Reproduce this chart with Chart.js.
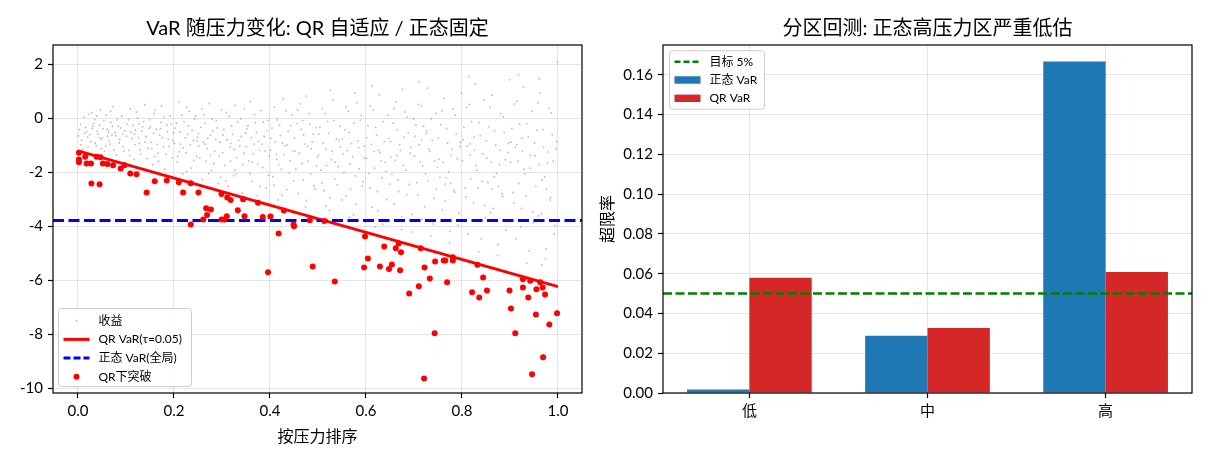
<!DOCTYPE html>
<html>
<head>
<meta charset="utf-8">
<script src="https://cdn.jsdelivr.net/npm/chart.js@4.4.1/dist/chart.umd.min.js"></script>
<style>
  html, body { margin: 0; padding: 0; background: #fff; }
  #left { position: absolute; left: 0; top: 0; width: 595px; height: 462px; }
  #right { position: absolute; left: 595px; top: 0; width: 615px; height: 462px; }
</style>
</head>
<body>
<div id="left"><canvas id="varChart"></canvas></div>
<div id="right"><canvas id="zoneChart"></canvas></div>
<script>
// ---- left panel data ----
var stressTicks = [0, 0.2, 0.4, 0.6, 0.8, 1.0];
var stressTickLabels = ['0.0', '0.2', '0.4', '0.6', '0.8', '1.0'];
var retTicks = [-10, -8, -6, -4, -2, 0, 2];
var retTickLabels = ['-10', '-8', '-6', '-4', '-2', '0', '2'];

var qrX = [0, 1];
var qrY = [-1.20, -6.23];
var normalVaR = -3.78;

var breachX = [0.002, 0.002, 0.002, 0.015, 0.018, 0.027, 0.028, 0.039, 0.045, 0.047, 0.052, 0.061, 0.073, 0.089,
  0.097, 0.109, 0.122, 0.143, 0.160, 0.185, 0.210, 0.219, 0.235, 0.235, 0.251, 0.261, 0.267, 0.269, 0.277,
  0.299, 0.299, 0.305, 0.310, 0.311, 0.318, 0.333, 0.344, 0.347, 0.375, 0.385, 0.396, 0.401, 0.418, 0.429,
  0.449, 0.450, 0.483, 0.489, 0.513, 0.535, 0.596, 0.598, 0.604, 0.629, 0.638, 0.648, 0.654, 0.662, 0.668,
  0.671, 0.673, 0.690, 0.710, 0.714, 0.721, 0.722, 0.733, 0.743, 0.744, 0.762, 0.765, 0.769, 0.781, 0.781,
  0.821, 0.832, 0.836, 0.844, 0.852, 0.899, 0.902, 0.911, 0.927, 0.927, 0.938, 0.942, 0.946, 0.954, 0.955,
  0.963, 0.968, 0.969, 0.973, 0.982, 0.998];
var breachY = [-1.27, -1.52, -1.62, -1.42, -1.67, -1.67, -2.41, -1.42, -2.44, -1.44, -1.67, -1.69, -1.73, -1.85,
  -1.73, -2.04, -2.07, -2.74, -2.33, -2.30, -2.36, -2.74, -2.40, -3.93, -2.74, -3.74, -3.33, -3.58, -3.37,
  -2.80, -3.74, -3.74, -3.62, -2.93, -3.02, -3.40, -2.99, -3.62, -3.12, -3.65, -5.70, -3.63, -4.26, -3.41,
  -3.93, -3.99, -3.77, -5.48, -3.80, -6.04, -5.52, -4.37, -5.19, -5.48, -4.74, -5.58, -5.41, -4.81, -4.63,
  -5.62, -4.96, -6.48, -6.22, -4.81, -9.63, -5.52, -5.93, -7.96, -5.30, -5.26, -5.26, -6.07, -5.14, -5.26,
  -6.44, -5.42, -6.63, -5.89, -6.37, -6.37, -7.04, -7.96, -5.96, -6.26, -6.63, -6.01, -9.48, -7.26, -6.33,
  -6.07, -6.26, -8.85, -6.52, -7.63, -7.22];

// gray return cloud
var returnsPts = [
  [0.003,-0.42],[0.008,-0.81],[0.012,0.05],[0.016,-0.33],[0.021,-1.05],[0.025,-0.6],[0.029,0.21],[0.033,-0.18],[0.036,-0.92],[0.04,-0.47],[0.044,-0.71],[0.047,0.32],[0.049,-1.12],[0.014,-0.55],[0.031,-0.28],
  [0.052,-0.38],[0.055,-1.21],[0.059,0.12],[0.062,-0.66],[0.066,-0.95],[0.069,-0.14],[0.073,0.44],[0.077,-0.52],[0.08,-1.36],[0.084,-0.29],[0.087,-0.78],[0.091,0.08],[0.094,-1.04],[0.098,-0.46],[0.071,-0.61],
  [0.102,-0.21],[0.106,-1.18],[0.109,0.35],[0.113,-0.74],[0.117,-1.52],[0.12,-0.43],[0.124,0.02],[0.128,-0.92],[0.131,-1.33],[0.135,-0.31],[0.139,0.51],[0.142,-0.67],[0.146,-1.1],[0.149,-0.05],[0.118,-0.58],
  [0.152,-0.88],[0.156,-1.71],[0.159,0.18],[0.163,-0.4],[0.167,-1.29],[0.17,-0.62],[0.174,0.46],[0.178,-1.05],[0.181,-1.88],[0.185,-0.24],[0.188,-0.77],[0.192,0.09],[0.196,-1.46],[0.199,-0.53],[0.173,-0.15],
  [0.203,-0.36],[0.207,-1.62],[0.21,0.61],[0.214,-0.95],[0.218,-2.05],[0.221,-0.12],[0.225,-1.27],[0.229,-0.58],[0.232,0.27],[0.236,-1.84],[0.24,-0.81],[0.243,-0.03],[0.247,-1.41],[0.249,-0.69],[0.227,0.42],
  [0.252,-1.02],[0.256,-0.33],[0.259,-2.26],[0.263,0.14],[0.267,-1.58],[0.27,-0.74],[0.274,0.55],[0.278,-1.93],[0.281,-0.47],[0.285,-1.21],[0.288,-0.09],[0.292,-2.41],[0.296,-0.88],[0.299,0.31],[0.276,-1.37],
  [0.302,-0.62],[0.306,-1.74],[0.309,0.22],[0.313,-2.51],[0.317,-1.06],[0.32,-0.28],[0.324,-2.12],[0.328,0.48],[0.331,-1.45],[0.335,-0.81],[0.339,-0.02],[0.342,-2.77],[0.346,-1.29],[0.349,-0.54],[0.327,-1.91],
  [0.352,-0.39],[0.356,-1.57],[0.359,0.63],[0.363,-2.33],[0.367,-0.95],[0.37,-0.16],[0.374,-2.86],[0.378,-1.18],[0.381,0.29],[0.385,-1.82],[0.388,-0.67],[0.392,-2.58],[0.396,-0.07],[0.399,-1.39],[0.376,-0.84],
  [0.402,-0.73],[0.406,-2.15],[0.409,0.41],[0.413,-1.32],[0.417,-3.02],[0.42,-0.25],[0.424,-1.88],[0.428,0.72],[0.431,-1.01],[0.435,-2.64],[0.438,-0.48],[0.442,-1.56],[0.446,0.13],[0.449,-2.31],[0.426,-0.92],
  [0.452,-1.21],[0.456,-0.19],[0.459,-2.78],[0.463,0.54],[0.467,-1.67],[0.47,-0.61],[0.474,-3.28],[0.478,-1.03],[0.481,0.17],[0.485,-2.06],[0.488,-0.87],[0.492,-2.49],[0.496,-0.34],[0.499,-1.44],[0.476,0.83],
  [0.502,-0.58],[0.506,-1.92],[0.509,0.36],[0.513,-2.67],[0.517,-1.14],[0.52,-0.11],[0.524,-3.41],[0.528,-1.53],[0.531,0.69],[0.535,-2.24],[0.538,-0.76],[0.542,-1.78],[0.546,-0.29],[0.549,-3.02],[0.526,1.04],
  [0.552,-1.31],[0.556,-0.42],[0.559,-2.88],[0.563,0.27],[0.567,-1.69],[0.57,-0.93],[0.574,-3.57],[0.578,-2.13],[0.581,0.58],[0.585,-1.08],[0.588,-0.06],[0.592,-2.51],[0.596,-1.46],[0.599,-3.83],[0.577,0.94],
  [0.602,-0.71],[0.606,-2.04],[0.609,0.46],[0.613,-3.29],[0.617,-1.22],[0.62,-0.33],[0.624,-2.71],[0.628,0.88],[0.631,-1.57],[0.635,-3.92],[0.638,-0.85],[0.642,-1.96],[0.646,0.12],[0.649,-2.43],[0.626,-1.18],[0.612,1.21],
  [0.652,-1.43],[0.656,-0.18],[0.659,-3.16],[0.663,0.61],[0.667,-2.27],[0.67,-0.97],[0.674,-4.12],[0.678,-1.74],[0.681,0.24],[0.685,-2.82],[0.688,-0.54],[0.692,-1.29],[0.696,-3.55],[0.699,-0.02],[0.676,1.08],
  [0.702,-0.66],[0.706,-2.38],[0.709,0.52],[0.713,-1.61],[0.717,-3.74],[0.72,-0.29],[0.724,-2.05],[0.728,1.12],[0.731,-1.13],[0.735,-4.36],[0.738,-0.81],[0.742,-2.96],[0.746,0.19],[0.749,-1.82],[0.726,-0.47],[0.711,1.36],
  [0.752,-1.52],[0.756,-0.23],[0.759,-3.38],[0.763,0.74],[0.767,-2.19],[0.77,-0.92],[0.774,-4.61],[0.778,-1.37],[0.781,0.35],[0.785,-2.73],[0.788,-0.58],[0.792,-3.95],[0.796,-1.04],[0.799,0.93],[0.776,-2.41],
  [0.802,-0.79],[0.806,-2.57],[0.809,0.41],[0.813,-4.28],[0.817,-1.36],[0.82,-0.12],[0.824,-3.12],[0.828,1.27],[0.831,-1.91],[0.835,-4.93],[0.838,-0.64],[0.842,-2.32],[0.846,0.68],[0.849,-3.67],[0.826,-1.18],[0.814,1.55],
  [0.852,-1.47],[0.856,-0.31],[0.859,-3.49],[0.863,0.86],[0.867,-2.16],[0.87,-0.98],[0.874,-5.08],[0.878,-1.71],[0.881,0.18],[0.885,-2.89],[0.888,-0.52],[0.892,-4.14],[0.896,-1.26],[0.899,1.43],[0.876,-2.52],
  [0.902,-0.88],[0.906,-2.74],[0.909,0.53],[0.913,-4.47],[0.917,-1.58],[0.92,-0.21],[0.924,-3.33],[0.928,1.16],[0.931,-2.05],[0.935,-5.36],[0.938,-0.69],[0.942,-1.84],[0.946,0.27],[0.949,-3.86],[0.926,-1.21],[0.918,1.62],
  [0.952,-1.39],[0.956,-0.44],[0.959,-3.61],[0.963,0.94],[0.967,-2.29],[0.97,-1.07],[0.974,-5.19],[0.978,-1.66],[0.981,0.37],[0.985,-2.93],[0.988,-0.61],[0.992,-4.28],[0.996,-1.12],[0.999,2.08],[0.976,-2.61],[0.961,1.47],
  [0.001,-0.65],[0.005,-0.22],[0.01,-1.15],[0.018,-0.49],[0.022,0.16],[0.027,-0.86],[0.03,-0.37],[0.035,-0.04],[0.038,-1.01],[0.042,-0.58],[0.045,-0.26],[0.048,-0.77],[0.02,-0.69],[0.006,-0.98],[0.039,0.09],
  [0.051,-0.72],[0.054,-0.09],[0.058,-1.02],[0.061,-0.41],[0.065,-0.83],[0.068,0.27],[0.072,-0.29],[0.075,-1.16],[0.079,-0.64],[0.082,-0.05],[0.086,-0.91],[0.089,-0.35],[0.093,-0.58],[0.096,-1.22],[0.064,-0.5],
  [0.101,-0.66],[0.105,-0.04],[0.108,-1.38],[0.111,-0.51],[0.115,-0.26],[0.119,-0.97],[0.122,0.24],[0.126,-0.71],[0.13,-1.15],[0.133,-0.47],[0.137,-0.12],[0.14,-0.88],[0.144,-1.49],[0.148,-0.37],[0.127,-0.19],
  [0.151,-0.31],[0.154,-1.12],[0.158,-0.55],[0.161,0.31],[0.165,-0.96],[0.168,-1.58],[0.172,-0.38],[0.176,-0.71],[0.179,0.06],[0.183,-1.33],[0.186,-0.49],[0.19,-1.04],[0.194,-0.21],[0.197,-0.82],[0.16,-1.41],
  [0.201,-0.92],[0.205,-0.17],[0.208,-1.41],[0.212,-0.49],[0.216,0.12],[0.219,-1.09],[0.223,-0.71],[0.226,-1.96],[0.23,-0.28],[0.234,-0.97],[0.238,-0.44],[0.241,-1.55],[0.245,0.09],[0.248,-0.83],[0.211,-1.23],
  [0.251,-0.57],[0.254,-1.46],[0.258,0.36],[0.261,-0.89],[0.265,-0.18],[0.269,-1.12],[0.272,-2.04],[0.276,-0.62],[0.279,-0.03],[0.283,-1.67],[0.287,-0.78],[0.29,-0.35],[0.294,-1.39],[0.297,-2.18],[0.265,-0.95],
  [0.301,-1.27],[0.304,-0.41],[0.308,-2.31],[0.311,-0.79],[0.315,0.08],[0.318,-1.58],[0.322,-0.59],[0.326,-1.15],[0.329,-2.06],[0.333,-0.14],[0.337,-1.02],[0.34,-0.66],[0.344,-1.71],[0.347,0.36],[0.319,-0.93],
  [0.351,-1.05],[0.354,-0.28],[0.358,-2.04],[0.361,-0.71],[0.365,-1.31],[0.368,0.14],[0.372,-0.52],[0.375,-1.68],[0.379,-2.52],[0.383,-0.96],[0.386,-0.13],[0.39,-1.21],[0.394,-0.45],[0.397,-2.11],[0.363,-1.62],
  [0.401,-1.18],[0.404,-0.36],[0.408,-2.47],[0.411,-0.87],[0.415,-0.05],[0.418,-1.71],[0.422,-0.63],[0.425,-2.85],[0.429,-1.34],[0.433,0.28],[0.436,-0.98],[0.44,-2.02],[0.443,-0.27],[0.447,-1.19],[0.414,-1.52],
  [0.451,-0.72],[0.454,-1.88],[0.458,0.31],[0.461,-1.29],[0.465,-0.41],[0.469,-2.27],[0.472,-0.95],[0.476,-3.04],[0.479,-1.58],[0.483,-0.22],[0.486,-1.13],[0.49,-0.58],[0.494,-2.61],[0.497,-1.76],[0.468,-0.08],
  [0.501,-1.36],[0.504,-0.33],[0.508,-2.39],[0.511,-0.92],[0.515,0.18],[0.518,-1.75],[0.522,-0.55],[0.525,-2.93],[0.529,-1.21],[0.533,-0.07],[0.536,-1.62],[0.54,-2.46],[0.543,-0.81],[0.547,-1.06],[0.516,-3.25],
  [0.551,-0.76],[0.554,-2.01],[0.558,0.42],[0.561,-1.19],[0.565,-0.52],[0.568,-2.62],[0.572,-1.41],[0.575,-0.17],[0.579,-3.18],[0.583,-0.84],[0.586,-1.87],[0.59,0.11],[0.594,-2.34],[0.597,-1.02],[0.565,-3.66],
  [0.601,-1.48],[0.604,-0.27],[0.608,-2.58],[0.611,-0.96],[0.615,0.31],[0.618,-1.84],[0.622,-0.61],[0.625,-3.42],[0.629,-1.26],[0.633,-2.19],[0.636,-0.12],[0.64,-1.63],[0.643,-3.01],[0.647,-0.74],[0.619,-4.02],
  [0.651,-0.86],[0.654,-2.07],[0.658,0.37],[0.661,-1.55],[0.665,-0.43],[0.668,-2.71],[0.672,-1.18],[0.675,-3.63],[0.679,-0.69],[0.683,-1.92],[0.686,0.05],[0.69,-2.44],[0.694,-1.07],[0.697,-4.21],[0.665,-1.37],
  [0.701,-1.39],[0.704,-0.24],[0.708,-2.83],[0.711,-0.97],[0.715,0.47],[0.718,-1.76],[0.722,-3.27],[0.725,-0.56],[0.729,-2.31],[0.733,-1.22],[0.736,-0.02],[0.74,-3.91],[0.743,-1.58],[0.747,-2.62],[0.716,-0.81],
  [0.751,-0.72],[0.754,-2.18],[0.758,0.29],[0.761,-1.63],[0.765,-3.06],[0.768,-0.37],[0.772,-1.97],[0.775,-4.18],[0.779,-1.14],[0.783,-2.66],[0.786,0.12],[0.79,-1.49],[0.794,-3.51],[0.797,-0.88],[0.765,-2.43],
  [0.801,-1.57],[0.804,-0.33],[0.808,-2.91],[0.811,-1.02],[0.815,0.52],[0.818,-2.24],[0.822,-3.78],[0.825,-0.69],[0.829,-1.74],[0.833,-2.58],[0.836,-0.15],[0.84,-4.46],[0.843,-1.31],[0.847,-3.22],[0.817,-0.94],
  [0.851,-0.83],[0.854,-2.37],[0.858,0.41],[0.861,-1.62],[0.865,-3.33],[0.868,-0.46],[0.872,-2.04],[0.875,-4.67],[0.879,-1.18],[0.883,-2.79],[0.886,0.07],[0.89,-1.53],[0.894,-3.82],[0.897,-0.92],[0.862,-2.61],
  [0.901,-1.62],[0.904,-0.37],[0.908,-3.14],[0.911,-1.06],[0.915,0.64],[0.918,-2.41],[0.922,-4.02],[0.925,-0.73],[0.929,-1.88],[0.933,-2.87],[0.936,-0.19],[0.94,-4.91],[0.943,-1.37],[0.947,-3.46],[0.914,-0.97],
  [0.951,-0.91],[0.954,-2.52],[0.958,0.58],[0.961,-1.71],[0.965,-3.54],[0.968,-0.42],[0.972,-2.17],[0.975,-4.83],[0.979,-1.24],[0.983,-3.02],[0.986,0.21],[0.99,-1.58],[0.994,-3.97],[0.997,-0.86],[0.966,-5.42]
];

// ---- right panel data ----
var zones = ['低', '中', '高'];
var normalRate = [0.0017, 0.0288, 0.1667];
var qrRate = [0.0579, 0.0327, 0.0608];
var targetRate = 0.05;
var rateTicks = [0, 0.02, 0.04, 0.06, 0.08, 0.10, 0.12, 0.14, 0.16];
var rateTickLabels = ['0.00', '0.02', '0.04', '0.06', '0.08', '0.10', '0.12', '0.14', '0.16'];

var FONT = "Lato, 'Noto Sans CJK SC', sans-serif";
Chart.defaults.font.family = FONT;
Chart.defaults.font.size = 15;
Chart.defaults.color = '#000';
Chart.defaults.animation = false;

var GRID = { color: 'rgba(0,0,0,0.1)', lineWidth: 1, tickColor: '#000', tickLength: 5, tickWidth: 1.2 };

function roundBox(ctx, x, y, w, h, r) {
  ctx.beginPath();
  ctx.moveTo(x + r, y);
  ctx.lineTo(x + w - r, y);
  ctx.arcTo(x + w, y, x + w, y + r, r);
  ctx.lineTo(x + w, y + h - r);
  ctx.arcTo(x + w, y + h, x + w - r, y + h, r);
  ctx.lineTo(x + r, y + h);
  ctx.arcTo(x, y + h, x, y + h - r, r);
  ctx.lineTo(x, y + r);
  ctx.arcTo(x, y, x + r, y, r);
  ctx.closePath();
}

// spines + axes title, matplotlib style
function framePlugin(title) {
  return {
    id: 'frame',
    afterDraw: function(chart) {
      var ca = chart.chartArea, ctx = chart.ctx;
      ctx.save();
      ctx.strokeStyle = '#000';
      ctx.lineWidth = 1.2;
      ctx.strokeRect(ca.left, ca.top, ca.right - ca.left, ca.bottom - ca.top);
      ctx.fillStyle = '#000';
      ctx.font = '20px ' + FONT;
      ctx.textAlign = 'center';
      ctx.textBaseline = 'middle';
      ctx.fillText(title, (ca.left + ca.right) / 2, ca.top - 16.5);
      ctx.restore();
    }
  };
}

function legendPlugin(box, items) {
  return {
    id: 'mplLegend',
    afterDraw: function(chart) {
      var ca = chart.chartArea, ctx = chart.ctx;
      var x0 = ca.left + box.dx;
      var y0 = box.fromBottom ? ca.bottom - box.dy - box.h : ca.top + box.dy;
      ctx.save();
      roundBox(ctx, x0, y0, box.w, box.h, 3);
      ctx.fillStyle = 'rgba(255,255,255,0.8)';
      ctx.fill();
      ctx.strokeStyle = '#cccccc';
      ctx.lineWidth = 1;
      ctx.stroke();
      ctx.font = '12px ' + FONT;
      ctx.textBaseline = 'middle';
      ctx.textAlign = 'left';
      for (var i = 0; i < items.length; i++) {
        var cy = y0 + box.first + i * box.step;
        var mx = x0 + 5;
        items[i].mark(ctx, mx, mx + 26, cy);
        ctx.fillStyle = '#000';
        ctx.fillText(items[i].label, x0 + 40, cy);
      }
      ctx.restore();
    }
  };
}

function lineMark(color, width, dash) {
  return function(ctx, a, b, y) {
    ctx.save();
    ctx.strokeStyle = color;
    ctx.lineWidth = width;
    ctx.setLineDash(dash);
    ctx.beginPath();
    ctx.moveTo(a, y);
    ctx.lineTo(b, y);
    ctx.stroke();
    ctx.restore();
  };
}
function dotMark(color, r) {
  return function(ctx, a, b, y) {
    ctx.fillStyle = color;
    ctx.beginPath();
    ctx.arc((a + b) / 2, y, r, 0, Math.PI * 2);
    ctx.fill();
  };
}
function rectMark(color) {
  return function(ctx, a, b, y) {
    ctx.fillStyle = color;
    ctx.fillRect(a, y - 3.7, b - a, 7.4);
  };
}

// ---- left chart ----
var xMin = -0.052, xMax = 1.05;
new Chart(document.getElementById('varChart'), {
  type: 'scatter',
  data: {
    datasets: [
      {
        label: '收益',
        data: returnsPts.map(function(p) { return { x: p[0], y: p[1] }; }),
        pointRadius: 0.9, pointBorderWidth: 0,
        backgroundColor: 'rgba(120,120,120,0.5)', borderColor: 'rgba(0,0,0,0)',
        order: 4
      },
      {
        type: 'line', label: 'QR VaR(τ=0.05)',
        data: qrX.map(function(x, i) { return { x: x, y: qrY[i] }; }),
        borderColor: '#ff0000', borderWidth: 3, pointRadius: 0, fill: false,
        order: 3
      },
      {
        type: 'line', label: '正态 VaR(全局)',
        data: [{ x: xMin, y: normalVaR }, { x: xMax, y: normalVaR }],
        borderColor: '#0000ff', borderWidth: 3, borderDash: [11, 4.5], pointRadius: 0, fill: false,
        order: 2
      },
      {
        label: 'QR下突破',
        data: breachX.map(function(x, i) { return { x: x, y: breachY[i] }; }),
        pointRadius: 3, pointBorderWidth: 0,
        backgroundColor: '#ff0000', borderColor: '#ff0000',
        order: 1
      }
    ]
  },
  options: {
    responsive: true,
    maintainAspectRatio: false,
    layout: { padding: { top: 45, right: 13, left: 0, bottom: 0 } },
    plugins: { legend: { display: false }, tooltip: { enabled: false }, title: { display: false } },
    scales: {
      x: {
        type: 'linear', min: xMin, max: xMax,
        grid: GRID, border: { display: false },
        afterBuildTicks: function(s) { s.ticks = stressTicks.map(function(v) { return { value: v }; }); },
        afterFit: function(s) { s.height = 69; },
        ticks: { padding: 4, maxRotation: 0, autoSkip: false,
          callback: function(v, i) { return stressTickLabels[i]; } },
        title: { display: true, text: '按压力排序', font: { size: 16 }, padding: { top: 0, bottom: 16 } }
      },
      y: {
        type: 'linear', min: -10.17, max: 2.72,
        grid: GRID, border: { display: false },
        afterBuildTicks: function(s) { s.ticks = retTicks.map(function(v) { return { value: v }; }); },
        afterFit: function(s) { s.width = 53; },
        ticks: { padding: 5, autoSkip: false,
          callback: function(v, i) { return retTickLabels[i]; } }
      }
    }
  },
  plugins: [
    framePlugin('VaR 随压力变化: QR 自适应 / 正态固定'),
    legendPlugin({ dx: 5.5, dy: 6.5, w: 133, h: 78, fromBottom: true, first: 12.2, step: 18.7 }, [
      { label: '收益', mark: dotMark('rgba(110,110,110,0.6)', 0.8) },
      { label: 'QR VaR(τ=0.05)', mark: lineMark('#ff0000', 3, []) },
      { label: '正态 VaR(全局)', mark: lineMark('#0000ff', 3, [7, 3]) },
      { label: 'QR下突破', mark: dotMark('#ff0000', 3) }
    ])
  ]
});

// ---- right chart ----
var zMin = -0.485, zMax = 2.485;
new Chart(document.getElementById('zoneChart'), {
  type: 'bar',
  data: {
    datasets: [
      {
        type: 'line', label: '目标 5%',
        data: [{ x: zMin, y: targetRate }, { x: zMax, y: targetRate }],
        borderColor: '#008000', borderWidth: 2.5, borderDash: [9, 3.5], pointRadius: 0, fill: false,
        order: 0
      },
      {
        label: '正态 VaR',
        data: zones.map(function(z, i) { return { x: i, y: normalRate[i] }; }),
        backgroundColor: '#1f77b4', borderWidth: 0, order: 1
      },
      {
        label: 'QR VaR',
        data: zones.map(function(z, i) { return { x: i, y: qrRate[i] }; }),
        backgroundColor: '#d62728', borderWidth: 0, order: 1
      }
    ]
  },
  options: {
    responsive: true,
    maintainAspectRatio: false,
    layout: { padding: { top: 45, right: 18, left: 0, bottom: 0 } },
    datasets: { bar: { categoryPercentage: 0.7, barPercentage: 1.0 } },
    plugins: { legend: { display: false }, tooltip: { enabled: false }, title: { display: false } },
    scales: {
      x: {
        type: 'linear', min: zMin, max: zMax, offset: false,
        grid: Object.assign({ offset: false }, GRID), border: { display: false },
        afterBuildTicks: function(s) { s.ticks = zones.map(function(z, i) { return { value: i }; }); },
        afterFit: function(s) { s.height = 69; },
        ticks: { padding: 4, maxRotation: 0, autoSkip: false,
          callback: function(v, i) { return zones[i]; } }
      },
      y: {
        type: 'linear', min: 0, max: 0.175,
        grid: GRID, border: { display: false },
        afterBuildTicks: function(s) { s.ticks = rateTicks.map(function(v) { return { value: v }; }); },
        afterFit: function(s) { s.width = 68; },
        ticks: { padding: 5, autoSkip: false,
          callback: function(v, i) { return rateTickLabels[i]; } },
        title: { display: true, text: '超限率', font: { size: 16 }, padding: { top: 3, bottom: 0 } }
      }
    }
  },
  plugins: [
    framePlugin('分区回测: 正态高压力区严重低估'),
    legendPlugin({ dx: 6.5, dy: 5.7, w: 95, h: 58.5, fromBottom: false, first: 11, step: 18.3 }, [
      { label: '目标 5%', mark: lineMark('#008000', 2.5, [6, 3]) },
      { label: '正态 VaR', mark: rectMark('#1f77b4') },
      { label: 'QR VaR', mark: rectMark('#d62728') }
    ])
  ]
});
</script>
</body>
</html>
